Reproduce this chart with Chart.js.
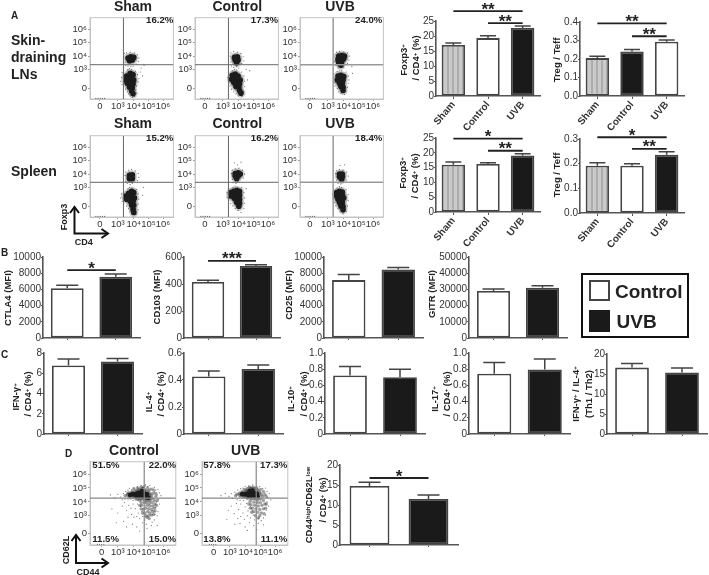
<!DOCTYPE html>
<html>
<head>
<meta charset="utf-8">
<title>Treg panels</title>
<script src="https://cdn.jsdelivr.net/npm/chart.js@4"></script>
<style>
  html, body { margin: 0; background: #fff; }
  #page { position: relative; width: 709px; height: 575px; overflow: hidden; font-family: "Liberation Sans", Arial, sans-serif; color: #222; filter: blur(0.45px); }
  #page canvas { position: absolute; }
  .t { position: absolute; white-space: nowrap; font-weight: bold; line-height: 1; }
  .t sup { font-size: 62%; line-height: 0; vertical-align: 0.45em; }
  .box { position: absolute; box-sizing: border-box; }
</style>
</head>
<body>
<div id="page"></div>
<script>
// bar panels: values, error = upper whisker length
const threeGroups = ['Sham', 'Control', 'UVB'];
const twoGroups = ['Control', 'UVB'];

const lnFoxp3Values = [17, 19.3, 22.7];
const lnFoxp3Errors = [0.7, 0.8, 0.6];
const lnFoxp3Brackets = [[0, 2, 28.3, '**'], [1, 2, 24.3, '**']];
const lnTregValues = [0.205, 0.24, 0.293];
const lnTregErrors = [0.01, 0.012, 0.01];
const lnTregBrackets = [[0, 2, 0.393, '**'], [1, 2, 0.323, '**']];
const spleenFoxp3Values = [16, 16.2, 19.1];
const spleenFoxp3Errors = [0.9, 0.4, 0.6];
const spleenFoxp3Brackets = [[0, 2, 24.8, '*'], [1, 2, 20.7, '**']];
const spleenTregValues = [0.192, 0.192, 0.236];
const spleenTregErrors = [0.012, 0.008, 0.012];
const spleenTregBrackets = [[0, 2, 0.307, '*'], [1, 2, 0.26, '**']];

const ctla4Values = [6150, 7550];
const ctla4Errors = [350, 350];
const ctla4Brackets = [[0, 1, 8390, '*']];
const cd103Values = [415, 533];
const cd103Errors = [12, 10];
const cd103Brackets = [[0, 1, 572, '***']];
const cd25Values = [7150, 8460];
const cd25Errors = [690, 250];
const gitrValues = [29000, 31000];
const gitrErrors = [1300, 1300];

const ifngValues = [6.77, 7.17];
const ifngErrors = [0.63, 0.29];
const il4Values = [0.426, 0.481];
const il4Errors = [0.04, 0.03];
const il10Values = [0.722, 0.702];
const il10Errors = [0.112, 0.098];
const il17Values = [0.743, 0.797];
const il17Errors = [0.14, 0.128];
const th1Th2Values = [16.6, 15.4];
const th1Th2Errors = [1, 1.1];
const cd44Values = [14.75, 11.5];
const cd44Errors = [0.95, 1];
const cd44Brackets = [[0, 1, 16.75, '*']];

// flow plots: axis units are decades, "0" sits at the low end of the biexponential scale
const flowTickLabels = ['0', '10³', '10⁴', '10⁵', '10⁶'];
const foxp3XTicks = [1.67, 2.9, 4, 5, 6];
const foxp3YTicks = [1.55, 3, 4, 5, 6];
const cd44XTicks = [1.8, 2.9, 4, 5, 6];
const cd44YTicks = [1.72, 3, 4, 5, 6];

const shamLnCore = [[3.6,3.85],[3.8,3.95],[4,3.9],[3.7,3.65],[3.9,3.7],[3.8,3.8],[3.5,2.5],[3.75,2.7],[3.95,2.6],[3.45,2.2],[3.65,2.3],[3.85,2.35],[4,2.2],[3.55,1.95],[3.75,2],[3.95,1.9],[3.7,1.65],[3.9,1.6],[3.85,1.35],[3.95,1.15]];
const shamLnStray = [[3.3,3.9],[3.35,4.2],[3.5,4.25],[3.75,4.3],[4.05,4.25],[4.25,4.1],[4.35,3.85],[4.3,3.6],[4.2,3.4],[3.4,3.5],[3.45,3.3],[3.6,3.25],[3.8,3.2],[3.95,3.25],[3.7,3.05],[3.85,3],[3.6,3],[3.2,2.75],[3.3,2.9],[3.55,2.95],[4.1,2.85],[4.25,2.6],[4.35,2.3],[4.3,2.05],[4.2,1.75],[4.15,1.45],[4.2,1.2],[3.15,2.4],[3.1,2.1],[3.2,1.85],[3.3,1.6],[3.45,1.5],[3.55,1.3],[3.65,1.15],[3.75,1],[4.05,0.95],[3.9,0.9],[4.45,2.8],[4.6,2.5],[4.5,3.1],[4.7,3.3],[1.4,0.8],[1.55,0.8],[1.7,0.8],[1.85,0.8],[2,0.8]];
const controlLnCore = [[3.7,3.9],[3.9,3.95],[3.75,3.7],[3.95,3.7],[3.85,3.5],[3.85,3.8],[3.55,2.55],[3.75,2.65],[3.95,2.5],[3.5,2.25],[3.7,2.3],[3.9,2.3],[4.1,2.2],[3.65,2],[3.85,2],[4.05,1.9],[3.8,1.7],[4,1.65],[4.05,1.4],[4.15,1.2]];
const controlLnStray = [[3.4,4],[3.45,4.25],[3.65,4.35],[3.9,4.3],[4.15,4.2],[4.3,3.95],[4.35,3.65],[4.2,3.45],[3.45,3.55],[3.5,3.25],[3.65,3.15],[3.85,3.2],[4,3.1],[3.7,3],[3.85,2.95],[3.55,2.9],[3.3,2.7],[3.25,2.4],[3.3,2.05],[3.4,1.75],[3.5,1.5],[3.65,1.3],[3.8,1.15],[3.95,1],[4.2,0.95],[4.35,1.3],[4.4,1.7],[4.4,2.1],[4.35,2.5],[4.2,2.8],[4.6,2.2],[4.5,3],[4.75,2.9],[4.1,1.05],[1.4,0.8],[1.55,0.8],[1.7,0.8],[1.85,0.8],[2,0.8]];
const uvbLnCore = [[3.65,4],[3.85,4.05],[4.05,4],[3.6,3.75],[3.8,3.8],[4,3.8],[3.65,3.5],[3.85,3.55],[3.8,3.3],[3.6,2.5],[3.8,2.55],[4,2.45],[3.55,2.2],[3.75,2.25],[3.95,2.2],[3.7,1.95],[3.9,1.95],[3.8,1.7],[3.95,1.65],[3.95,1.4]];
const uvbLnStray = [[3.4,4.1],[3.5,4.3],[3.7,4.35],[4,4.3],[4.25,4.25],[4.4,4],[4.35,3.7],[4.25,3.45],[3.4,3.6],[3.45,3.3],[3.6,3.1],[3.95,3.15],[3.7,2.95],[3.85,2.9],[3.3,2.7],[3.55,2.85],[4.15,2.8],[4.3,2.5],[4.35,2.2],[3.3,2.35],[3.35,2],[3.4,1.75],[3.55,1.55],[3.65,1.3],[3.8,1.2],[4.15,1.3],[4.25,1.65],[4.3,1.95],[4.05,1.1],[4.6,2.7],[4.55,3.2],[1.4,0.8],[1.55,0.8],[1.7,0.8],[1.85,0.8],[2,0.8]];
const shamSpleenCore = [[3.7,3.9],[3.9,3.95],[3.7,3.65],[3.9,3.65],[3.8,3.8],[3.45,2.35],[3.65,2.55],[3.85,2.7],[4,2.6],[3.5,2.1],[3.7,2.25],[3.9,2.3],[4.05,2.2],[3.75,1.95],[3.95,1.95],[3.85,1.65],[4,1.65],[3.95,1.35],[4,1.1]];
const shamSpleenStray = [[3.4,3.9],[3.45,4.15],[3.65,4.3],[3.85,4.35],[4.1,4.25],[4.3,4.05],[4.35,3.75],[4.25,3.5],[3.45,3.45],[3.55,3.3],[3.75,3.2],[3.9,3.3],[3.7,3],[3.85,2.95],[3.6,2.9],[3.3,2.8],[3.15,2.5],[3.1,2.2],[3.2,1.95],[3.3,1.7],[3.5,1.6],[3.65,1.4],[3.75,1.2],[3.85,1],[4.15,0.95],[4.3,1.3],[4.3,1.75],[4.35,2.1],[4.3,2.5],[4.2,2.85],[4.6,2.4],[4.65,3],[1.4,0.8],[1.55,0.8],[1.7,0.8],[1.85,0.8],[2,0.8]];
const controlSpleenCore = [[3.75,4.05],[3.95,4.1],[4.1,4],[3.75,3.85],[3.95,3.85],[3.85,3.65],[3.45,2.6],[3.65,2.7],[3.85,2.75],[4.05,2.7],[3.45,2.35],[3.65,2.4],[3.85,2.45],[4.05,2.4],[3.7,2.15],[3.9,2.15],[4.05,2.1],[3.85,1.85],[4.05,1.8],[4,1.55]];
const controlSpleenStray = [[3.5,4.05],[3.55,4.3],[3.75,4.4],[4,4.45],[4.25,4.3],[4.4,4],[4.3,3.7],[3.55,3.6],[3.6,3.35],[3.8,3.3],[3.95,3.4],[3.75,3.1],[3.9,3],[3.6,3],[3.3,2.9],[3.2,2.6],[3.2,2.25],[3.3,2],[3.45,1.8],[3.6,1.6],[3.75,1.4],[3.95,1.25],[4.15,1.1],[4.35,1.4],[4.4,1.8],[4.4,2.2],[4.35,2.6],[4.2,3],[3.9,4.7],[4.15,4.9],[3.7,4.85],[4.5,2.9],[1.4,0.8],[1.55,0.8],[1.7,0.8],[1.85,0.8],[2,0.8]];
const uvbSpleenCore = [[3.7,4],[3.9,4],[3.7,3.8],[3.9,3.8],[3.85,3.6],[3.5,2.6],[3.7,2.7],[3.9,2.65],[3.5,2.35],[3.7,2.4],[3.9,2.4],[4,2.2],[3.6,2.1],[3.8,2.1],[3.7,1.85],[3.9,1.85],[3.8,1.6],[3.95,1.55],[3.95,1.3]];
const uvbSpleenStray = [[3.45,4.05],[3.5,4.25],[3.7,4.35],[3.95,4.3],[4.2,4.15],[4.3,3.85],[4.2,3.55],[3.5,3.55],[3.6,3.3],[3.8,3.25],[3.7,3.05],[3.85,3],[3.55,2.95],[3.3,2.8],[3.25,2.5],[3.25,2.15],[3.35,1.85],[3.45,1.6],[3.6,1.4],[3.75,1.15],[3.95,1],[4.15,1.2],[4.25,1.6],[4.3,2],[4.3,2.45],[4.15,2.85],[4.05,4.7],[3.75,4.65],[1.4,0.8],[1.55,0.8],[1.7,0.8],[1.85,0.8],[2,0.8]];

const controlD44Core = [[3.75,4.5],[3.95,4.55],[4.15,4.55],[4.3,4.65],[4.5,4.6],[4.7,4.6],[4.9,4.55],[4.2,4.4],[4.4,4.45],[4.6,4.4],[4.8,4.35],[4.55,4.78],[5,4.3]];
const controlD44Mid = [[3.55,4.5],[3.6,4.62],[3.7,4.38],[3.9,4.72],[4,4.36],[4.15,4.8],[4.35,4.9],[4.6,4.95],[4.8,4.85],[5,4.8],[5.1,4.6],[5.2,4.45],[5.3,4.6],[5.25,4.25],[5.1,4.1],[4.9,4.12],[4.7,4.15],[4.5,4.2],[4.85,3.95],[5.05,3.9],[5.25,3.95],[4.7,3.95],[4.9,3.75],[5.1,3.7],[5.3,3.7],[4.8,3.55],[5,3.5],[5.2,3.45],[4.95,3.3],[5.1,3.2],[5.3,3.3],[5,3],[5.2,3.05],[5.05,2.8],[5.4,4.1],[5.5,4.4],[4.4,4.12],[4.25,4.18],[4.55,3.75],[4.65,3.45],[5.4,3.55],[5.45,3.85],[4.75,3.2],[3.4,4.45],[4,4.95],[4.25,5],[4.5,5.05],[4.7,5.1],[4.95,5],[5.15,4.9],[5.35,4.85],[5.5,4.6],[4.5,3.95],[4.4,3.75],[4.5,3.5],[4.6,3.2],[4.8,3],[4.9,2.9],[5.35,3.1],[5.45,3.35],[5.55,3.75],[5.6,4.1]];
const controlD44Stray = [[2.4,4.5],[2.7,4.3],[2.9,4.55],[3.1,4.35],[3.2,4.15],[3.3,4.6],[3.45,4.75],[3.4,4.2],[3.6,4.15],[3.6,4.85],[3.7,4.98],[3.8,4.2],[3.85,4.88],[3.95,4.1],[4,5],[4.1,4.15],[4.25,5.08],[4.5,5.18],[4.65,5.05],[4.8,5.22],[4.95,5.1],[5.1,5.18],[5.25,5],[5.4,5.05],[5.5,4.85],[5.65,4.9],[5.75,4.65],[5.6,4.5],[5.85,4.45],[5.4,4.72],[5.7,4.2],[5.55,4],[5.75,3.85],[5.5,3.6],[5.65,3.3],[5.45,3.1],[5.6,3],[5.4,2.7],[5.25,2.55],[2.5,3.5],[2.9,3.2],[3.2,3.7],[3.35,3.95],[3.5,3.4],[3.65,3.75],[3.8,3.55],[3.95,3.85],[4.1,3.5],[4.25,3.85],[4.3,3.2],[4.45,3.65],[4.55,3.3],[3.6,2.9],[3.85,3.1],[4,2.9],[4.2,2.95],[4.4,2.8],[4.6,2.95],[4.75,2.7],[3.3,2.6],[2.8,2.5],[3.9,2.4],[4.6,2.5],[4.85,2.4],[5.2,2.3],[4.2,2.2],[4.9,2.1],[3.5,2.2],[5.6,2.3],[4.4,1.9],[1.5,0.95],[1.65,0.95],[1.8,0.95],[1.95,0.95]];
const uvbD44Core = [[3.75,4.55],[3.95,4.55],[4.15,4.6],[4.35,4.65],[4.55,4.65],[4.75,4.6],[4.2,4.42],[4.4,4.45],[4.6,4.45],[4.8,4.4],[4.45,4.8],[4.25,4.78]];
const uvbD44Mid = [[3.4,4.55],[3.55,4.6],[3.6,4.45],[3.75,4.72],[3.9,4.38],[4,4.78],[4.1,4.28],[4.1,4.95],[4.35,4.98],[4.6,4.95],[4.8,4.85],[4.95,4.7],[5.05,4.55],[5.15,4.4],[5,4.2],[4.8,4.15],[4.6,4.2],[4.4,4.22],[4.3,4.05],[4.55,3.98],[4.8,3.95],[5,3.95],[5.2,4.1],[5.3,4.55],[4.6,3.75],[4.85,3.7],[5.1,3.75],[5.3,3.85],[4.7,3.5],[4.95,3.45],[5.2,3.5],[4.8,3.25],[5.05,3.2],[4.95,3],[4.35,3.8],[4.45,3.55],[4.55,3.3],[3.3,4.45],[3.9,4.9],[4.25,5.05],[4.5,5.05],[4.75,5],[5,4.9],[5.2,4.75],[5.4,4.4],[4.2,3.85],[4.3,3.55],[4.4,3.25],[4.65,3],[4.85,2.85],[5.25,3.15],[5.35,3.55],[5.4,3.85]];
const uvbD44Stray = [[2.3,4.45],[2.6,4.6],[2.85,4.4],[3,4.6],[3.1,4.25],[3.25,4.7],[3.4,4.15],[3.45,4.85],[3.65,4.95],[3.6,4.1],[3.8,5],[3.85,4.1],[3.95,5.12],[4.2,5.15],[4.45,5.22],[4.7,5.12],[4.95,5.1],[5.15,4.95],[5.35,5],[5.45,4.75],[5.6,4.6],[5.5,4.3],[5.7,4.15],[5.45,4],[5.55,3.7],[5.4,3.4],[5.35,3.05],[5.2,2.85],[5.05,2.65],[4.85,2.8],[2.8,3.4],[3,3.7],[3.2,3.15],[3.35,3.9],[3.5,3.45],[3.65,3.85],[3.8,3.2],[3.95,3.65],[4.05,3.9],[4.15,3.35],[4.3,3.65],[4.45,3.4],[3.45,2.8],[3.65,2.95],[3.9,2.75],[4.1,3],[4.3,2.85],[4.5,3.05],[4.6,2.7],[3.25,2.4],[3.6,2.45],[3.95,2.2],[4.25,2.5],[4.55,2.3],[4.85,2.45],[5.2,2.35],[2.7,2.75],[4.1,1.95],[4.75,2],[1.5,0.95],[1.65,0.95],[1.8,0.95],[1.95,0.95]];

const page = document.getElementById('page');
const axisGrey = '#555';

function addText(html, x, y, size, opts = {}) {
  const el = document.createElement('div');
  el.className = 't';
  el.innerHTML = html;
  el.style.fontSize = size + 'px';
  el.style.top = y + 'px';
  if (opts.rotate) {
    el.style.left = x + 'px';
    el.style.transform = 'translate(-50%,-50%) rotate(-90deg)';
  } else if (opts.align === 'left') {
    el.style.left = x + 'px';
    el.style.transform = 'translateY(-50%)';
  } else if (opts.align === 'right') {
    el.style.right = (709 - x) + 'px';
    el.style.transform = 'translateY(-50%)';
  } else {
    el.style.left = x + 'px';
    el.style.transform = 'translate(-50%,-50%)';
  }
  page.appendChild(el);
}

function addCanvas(left, top, width, height) {
  const canvas = document.createElement('canvas');
  canvas.width = width;
  canvas.height = height;
  canvas.style.left = left + 'px';
  canvas.style.top = top + 'px';
  canvas.style.width = width + 'px';
  canvas.style.height = height + 'px';
  page.appendChild(canvas);
  return canvas;
}

function stripes() {
  const c = document.createElement('canvas');
  c.width = 5;
  c.height = 2;
  const g = c.getContext('2d');
  g.fillStyle = '#cacaca';
  g.fillRect(0, 0, 5, 2);
  g.fillStyle = '#adadad';
  g.fillRect(0, 0, 2, 2);
  return g.createPattern(c, 'repeat');
}

// whiskers, significance bars and stars, all placed through the chart's scales
const barMarks = {
  id: 'barMarks',
  afterDatasetsDraw(chart) {
    const ctx = chart.ctx;
    const { x, y } = chart.scales;
    const ds = chart.data.datasets[0];
    ctx.save();
    ctx.strokeStyle = '#444';
    ctx.lineWidth = 1.5;
    ds.data.forEach((v, i) => {
      const px = x.getPixelForValue(i);
      const y0 = y.getPixelForValue(v);
      const y1 = y.getPixelForValue(v + ds.errors[i]);
      ctx.beginPath();
      ctx.moveTo(px, y0);
      ctx.lineTo(px, y1);
      ctx.moveTo(px - ds.capHalf, y1);
      ctx.lineTo(px + ds.capHalf, y1);
      ctx.stroke();
    });
    ctx.strokeStyle = '#222';
    ctx.lineWidth = 1.8;
    ctx.fillStyle = '#222';
    ctx.textAlign = 'center';
    ctx.font = 'bold 17px "Liberation Sans"';
    (ds.brackets || []).forEach(([a, b, v, stars]) => {
      const py = y.getPixelForValue(v);
      const xa = x.getPixelForValue(a);
      const xb = x.getPixelForValue(b);
      ctx.beginPath();
      ctx.moveTo(xa, py);
      ctx.lineTo(xb, py);
      ctx.stroke();
      ctx.fillText(stars, (xa + xb) / 2, py + 3.5);
    });
    ctx.restore();
  }
};

function barPanel(p) {
  const gapL = 44, padT = 22, padR = 4, gapB = p.rotated ? 56 : 6;
  const w = Math.round(p.right - p.axis + gapL + padR);
  const h = Math.round(p.base - p.top + padT + gapB);
  const canvas = addCanvas(p.axis - gapL, p.top - padT, w, h);
  new Chart(canvas, {
    type: 'bar',
    data: {
      labels: p.labels,
      datasets: [{
        data: p.values,
        errors: p.errors,
        brackets: p.brackets,
        capHalf: p.capHalf || 8,
        backgroundColor: p.fills,
        borderColor: '#444',
        borderWidth: 1.8,
        borderSkipped: false,
        barPercentage: 0.675,
        categoryPercentage: 1
      }]
    },
    options: {
      responsive: false,
      animation: false,
      events: [],
      layout: { padding: { top: padT, right: padR, left: 0, bottom: 0 } },
      plugins: { legend: { display: false }, tooltip: { enabled: false } },
      scales: {
        x: {
          afterFit(s) { s.height = gapB; },
          border: { color: axisGrey, width: 1.6 },
          grid: { offset: false, drawOnChartArea: false, tickLength: p.rotated ? 3 : 2, color: axisGrey },
          ticks: {
            display: !!p.rotated,
            autoSkip: false,
            maxRotation: 50,
            minRotation: 50,
            padding: 0,
            color: '#333',
            font: { family: 'Liberation Sans', size: 10, weight: 'bold' }
          }
        },
        y: {
          min: 0,
          max: p.ticks[p.ticks.length - 1],
          afterFit(s) { s.width = gapL; },
          afterBuildTicks(s) { s.ticks = p.ticks.map(value => ({ value })); },
          border: { color: axisGrey, width: 1.6 },
          grid: { drawOnChartArea: false, tickLength: 2, color: axisGrey },
          ticks: {
            autoSkip: false,
            padding: 0,
            color: '#333',
            font: { family: 'Liberation Sans', size: 10 },
            callback: (v, i) => p.tickText ? p.tickText[i] : String(v)
          }
        }
      }
    },
    plugins: [barMarks]
  });
}

const frame = {
  id: 'frame',
  beforeDatasetsDraw(chart) {
    const a = chart.chartArea;
    const ctx = chart.ctx;
    ctx.save();
    ctx.strokeStyle = '#c4c4c4';
    ctx.lineWidth = 1;
    ctx.strokeRect(a.left, a.top, a.right - a.left, a.bottom - a.top);
    ctx.restore();
  }
};

function toPoints(list) {
  return list.map(([x, y]) => ({ x, y }));
}

function flowPanel(p) {
  const gapL = 30, padT = 2, padR = 2, gapB = 16;
  const w = Math.round(p.width + gapL + padR);
  const h = Math.round(p.height + padT + gapB);
  const canvas = addCanvas(p.left - gapL, p.top - padT, w, h);
  const coreRadius = p.coreRadius || 2.8;
  const sets = [
    { data: [{ x: p.cutX, y: p.yRange[0] }, { x: p.cutX, y: p.yRange[1] }], showLine: true, pointRadius: 0, borderColor: p.lineColor, borderWidth: p.lineWidth },
    { data: [{ x: p.xRange[0], y: p.cutY }, { x: p.xRange[1], y: p.cutY }], showLine: true, pointRadius: 0, borderColor: p.lineColor, borderWidth: p.lineWidth },
    { data: toPoints(p.core), pointRadius: coreRadius, pointBackgroundColor: '#1c1c1c', pointBorderWidth: 0 },
    { data: toPoints(p.core), pointRadius: coreRadius + 1.8, pointBackgroundColor: 'rgba(40,40,40,0.22)', pointBorderWidth: 0 }
  ];
  if (p.mid) sets.push({ data: toPoints(p.mid), pointRadius: 1.7, pointBackgroundColor: 'rgba(30,30,30,0.42)', pointBorderWidth: 0 });
  sets.push({ data: toPoints(p.stray), pointRadius: 0.6, pointBackgroundColor: 'rgba(50,50,50,0.7)', pointBorderWidth: 0 });
  new Chart(canvas, {
    type: 'scatter',
    data: { datasets: sets },
    options: {
      responsive: false,
      animation: false,
      events: [],
      layout: { padding: { top: padT, right: padR, left: 0, bottom: 0 } },
      plugins: { legend: { display: false }, tooltip: { enabled: false } },
      scales: {
        x: {
          type: 'linear',
          min: p.xRange[0],
          max: p.xRange[1],
          afterFit(s) { s.height = gapB; },
          afterBuildTicks(s) { s.ticks = p.xTicks.map(value => ({ value })); },
          border: { color: '#c4c4c4' },
          grid: { drawOnChartArea: false, tickLength: 2, color: '#999' },
          ticks: {
            autoSkip: false, maxRotation: 0, padding: 0, color: '#333',
            font: { family: 'Liberation Sans', size: 9.5 },
            callback: (v, i) => flowTickLabels[i]
          }
        },
        y: {
          type: 'linear',
          min: p.yRange[0],
          max: p.yRange[1],
          afterFit(s) { s.width = gapL; },
          afterBuildTicks(s) { s.ticks = p.yTicks.map(value => ({ value })); },
          border: { color: '#c4c4c4' },
          grid: { drawOnChartArea: false, tickLength: 2, color: '#999' },
          ticks: {
            autoSkip: false, padding: 1, color: '#333',
            font: { family: 'Liberation Sans', size: 9.5 },
            callback: (v, i) => flowTickLabels[i]
          }
        }
      }
    },
    plugins: [frame]
  });
}

// panel A flow plots
const aRange = { xRange: [1, 6.71], yRange: [0.76, 6.9], xTicks: foxp3XTicks, yTicks: foxp3YTicks, width: 85.7, height: 85.7 };
flowPanel({ ...aRange, left: 90, top: 13.3, cutX: 3.29, cutY: 3.35, core: shamLnCore, stray: shamLnStray, lineColor: '#666', lineWidth: 1 });
flowPanel({ ...aRange, left: 195, top: 13.3, cutX: 3.29, cutY: 3.35, core: controlLnCore, stray: controlLnStray, lineColor: '#666', lineWidth: 1 });
flowPanel({ ...aRange, left: 299.7, top: 13.3, cutX: 3.27, cutY: 3.35, core: uvbLnCore, stray: uvbLnStray, lineColor: '#999', lineWidth: 1.5 });
flowPanel({ ...aRange, left: 90, top: 130.5, cutX: 3.29, cutY: 3.38, core: shamSpleenCore, stray: shamSpleenStray, lineColor: '#666', lineWidth: 1 });
flowPanel({ ...aRange, left: 195, top: 130.5, cutX: 3.29, cutY: 3.38, core: controlSpleenCore, stray: controlSpleenStray, lineColor: '#666', lineWidth: 1 });
flowPanel({ ...aRange, left: 299.7, top: 130.5, cutX: 3.27, cutY: 3.38, core: uvbSpleenCore, stray: uvbSpleenStray, lineColor: '#999', lineWidth: 1.5 });

// panel D flow plots
const dRange = { xRange: [1, 6.87], yRange: [0.9, 6.89], xTicks: cd44XTicks, yTicks: cd44YTicks, width: 88, height: 88, coreRadius: 2.4 };
flowPanel({ ...dRange, left: 90, top: 457.3, cutX: 4.71, cutY: 4.27, core: controlD44Core, mid: controlD44Mid, stray: controlD44Stray, lineColor: '#888', lineWidth: 1.2 });
flowPanel({ ...dRange, left: 201.7, top: 457.3, cutX: 4.71, cutY: 4.27, core: uvbD44Core, mid: uvbD44Mid, stray: uvbD44Stray, lineColor: '#888', lineWidth: 1.2 });

// panel A bars
const shamFill = stripes();
const fillsSWB = [shamFill, '#fff', '#1a1a1a'];
const fillsSBW = [shamFill, '#1a1a1a', '#fff'];
const fillsWB = ['#fff', '#1a1a1a'];
barPanel({ axis: 436, right: 540, top: 20.7, base: 95.7, rotated: true, labels: threeGroups, values: lnFoxp3Values, errors: lnFoxp3Errors, brackets: lnFoxp3Brackets, fills: fillsSWB, ticks: [0, 5, 10, 15, 20, 25] });
barPanel({ axis: 579.7, right: 683.7, top: 21.7, base: 95.7, rotated: true, labels: threeGroups, values: lnTregValues, errors: lnTregErrors, brackets: lnTregBrackets, fills: fillsSBW, ticks: [0, 0.1, 0.2, 0.3, 0.4], tickText: ['0.0', '0.1', '0.2', '0.3', '0.4'] });
barPanel({ axis: 436, right: 540, top: 138.3, base: 212.7, rotated: true, labels: threeGroups, values: spleenFoxp3Values, errors: spleenFoxp3Errors, brackets: spleenFoxp3Brackets, fills: fillsSWB, ticks: [0, 5, 10, 15, 20, 25] });
barPanel({ axis: 579.7, right: 683.7, top: 139, base: 212.7, rotated: true, labels: threeGroups, values: spleenTregValues, errors: spleenTregErrors, brackets: spleenTregBrackets, fills: fillsSWB, ticks: [0, 0.1, 0.2, 0.3], tickText: ['0.0', '0.1', '0.2', '0.3'] });

// panel B bars
barPanel({ axis: 43.3, right: 140, top: 257.3, base: 338, labels: twoGroups, values: ctla4Values, errors: ctla4Errors, brackets: ctla4Brackets, fills: fillsWB, capHalf: 11, ticks: [0, 2000, 4000, 6000, 8000, 10000] });
barPanel({ axis: 184.3, right: 280, top: 257.3, base: 338, labels: twoGroups, values: cd103Values, errors: cd103Errors, brackets: cd103Brackets, fills: fillsWB, capHalf: 11, ticks: [0, 200, 400, 600] });
barPanel({ axis: 324, right: 422.7, top: 257.3, base: 338, labels: twoGroups, values: cd25Values, errors: cd25Errors, fills: fillsWB, capHalf: 11, ticks: [0, 2000, 4000, 6000, 8000, 10000] });
barPanel({ axis: 468.7, right: 566.7, top: 257.3, base: 338, labels: twoGroups, values: gitrValues, errors: gitrErrors, fills: fillsWB, capHalf: 11, ticks: [0, 10000, 20000, 30000, 40000, 50000] });

// panel C bars
const fracLabels = ['0', '0.2', '0.4', '0.6', '0.8', '1.0'];
barPanel({ axis: 44, right: 141.7, top: 353.3, base: 434, labels: twoGroups, values: ifngValues, errors: ifngErrors, fills: fillsWB, capHalf: 11, ticks: [0, 2, 4, 6, 8] });
barPanel({ axis: 184.3, right: 283, top: 353.3, base: 434, labels: twoGroups, values: il4Values, errors: il4Errors, fills: fillsWB, capHalf: 11, ticks: [0, 0.2, 0.4, 0.6], tickText: fracLabels });
barPanel({ axis: 324.7, right: 425, top: 353.3, base: 434, labels: twoGroups, values: il10Values, errors: il10Errors, fills: fillsWB, capHalf: 11, ticks: [0, 0.2, 0.4, 0.6, 0.8, 1], tickText: fracLabels });
barPanel({ axis: 469.3, right: 570, top: 353.3, base: 434, labels: twoGroups, values: il17Values, errors: il17Errors, fills: fillsWB, capHalf: 11, ticks: [0, 0.2, 0.4, 0.6, 0.8, 1], tickText: fracLabels });
barPanel({ axis: 606.7, right: 707, top: 353.7, base: 434, labels: twoGroups, values: th1Th2Values, errors: th1Th2Errors, fills: fillsWB, capHalf: 11, ticks: [0, 5, 10, 15, 20] });

// panel D bars
barPanel({ axis: 340, right: 458.3, top: 465, base: 545, labels: twoGroups, values: cd44Values, errors: cd44Errors, brackets: cd44Brackets, fills: fillsWB, capHalf: 11, ticks: [0, 5, 10, 15, 20] });

// panel letters and row labels
addText('A', 11, 16, 10, { align: 'left' });
addText('B', 1, 253, 10, { align: 'left' });
addText('C', 1, 355, 10, { align: 'left' });
addText('D', 65, 454, 10, { align: 'left' });
addText('Skin-', 11, 39.5, 14, { align: 'left' });
addText('draining', 11, 56.5, 14, { align: 'left' });
addText('LNs', 11, 73.5, 14, { align: 'left' });
addText('Spleen', 11, 170.5, 14, { align: 'left' });

// flow titles and quadrant percentages
[[133, 'Sham'], [237.3, 'Control'], [340, 'UVB']].forEach(([x, name]) => {
  addText(name, x, 6, 14);
  addText(name, x, 123, 14);
});
addText('Control', 134, 450, 14);
addText('UVB', 245.7, 450, 14);
[[173.3, 20, '16.2%'], [278, 20, '17.3%'], [382.3, 20, '24.0%'], [173.3, 137.7, '15.2%'], [278, 137.7, '16.2%'], [382.3, 137.7, '18.4%'],
 [176, 465, '22.0%'], [176, 539, '15.0%'], [287.3, 465, '17.3%'], [287.3, 539, '11.1%']].forEach(([x, y, s]) => addText(s, x, y, 9.6, { align: 'right' }));
[[92.3, 465, '51.5%'], [92.3, 539, '11.5%'], [203.3, 465, '57.8%'], [203.3, 539, '13.8%']].forEach(([x, y, s]) => addText(s, x, y, 9.6, { align: 'left' }));

// y axis titles
const cd4Line = '/ CD4<sup>+</sup> (%)';
[[403.5, 59.5, 'Foxp3<sup>+</sup>'], [416, 58, cd4Line], [556.7, 60, 'Treg / Teff'],
 [403, 173, 'Foxp3<sup>+</sup>'], [415, 176, cd4Line], [556.7, 175, 'Treg / Teff'],
 [8, 298.3, 'CTLA4 (MFI)'], [157.3, 297.3, 'CD103 (MFI)'], [289.3, 295, 'CD25 (MFI)'], [431.7, 294.3, 'GITR (MFI)'],
 [16, 397, 'IFN-γ<sup>+</sup>'], [28, 394, cd4Line], [149, 402, 'IL-4<sup>+</sup>'], [161.3, 394, cd4Line],
 [291, 399, 'IL-10<sup>+</sup>'], [304, 394, cd4Line], [435, 399, 'IL-17<sup>+</sup>'], [447.3, 394, cd4Line],
 [576, 394, 'IFN-γ<sup>+</sup> / IL-4<sup>+</sup>'], [589, 394, '(Th1 / Th2)'],
 [308.7, 504.5, 'CD44<sup>high</sup>CD62L<sup>low</sup>'], [322.7, 500, cd4Line]
].forEach(([x, y, s]) => addText(s, x, y, 9.5, { rotate: true }));

// axis arrows under the flow plots
addText('Foxp3', 64.3, 217, 9, { rotate: true });
addText('CD4', 83.7, 241.5, 9);
addText('CD62L', 65.7, 550, 9, { rotate: true });
addText('CD44', 88, 572, 9);
page.insertAdjacentHTML('beforeend',
  '<svg width="709" height="575" style="position:absolute;left:0;top:0">' +
  '<g fill="none" stroke="#111" stroke-width="2">' +
  '<path d="M74.5 208V233.5H107"/><path d="M70 213L74.5 207L79 213"/><path d="M101.5 229L108 233.5L101.5 238"/>' +
  '<path d="M76 536V563H107"/><path d="M71.5 541L76 535L80.5 541"/><path d="M101.5 558.5L108 563L101.5 567.5"/>' +
  '</g></svg>');

// legend box
page.insertAdjacentHTML('beforeend',
  '<div class="box" style="left:581px;top:272.5px;width:107.5px;height:65.5px;border:2px solid #111"></div>' +
  '<div class="box" style="left:588.7px;top:280.3px;width:21.5px;height:20.7px;border:2px solid #444;background:#fff"></div>' +
  '<div class="box" style="left:588.7px;top:310px;width:21.5px;height:21.7px;background:#1a1a1a"></div>');
addText('Control', 615, 291, 19, { align: 'left' });
addText('UVB', 616.5, 321, 19, { align: 'left' });
</script>
</body>
</html>
